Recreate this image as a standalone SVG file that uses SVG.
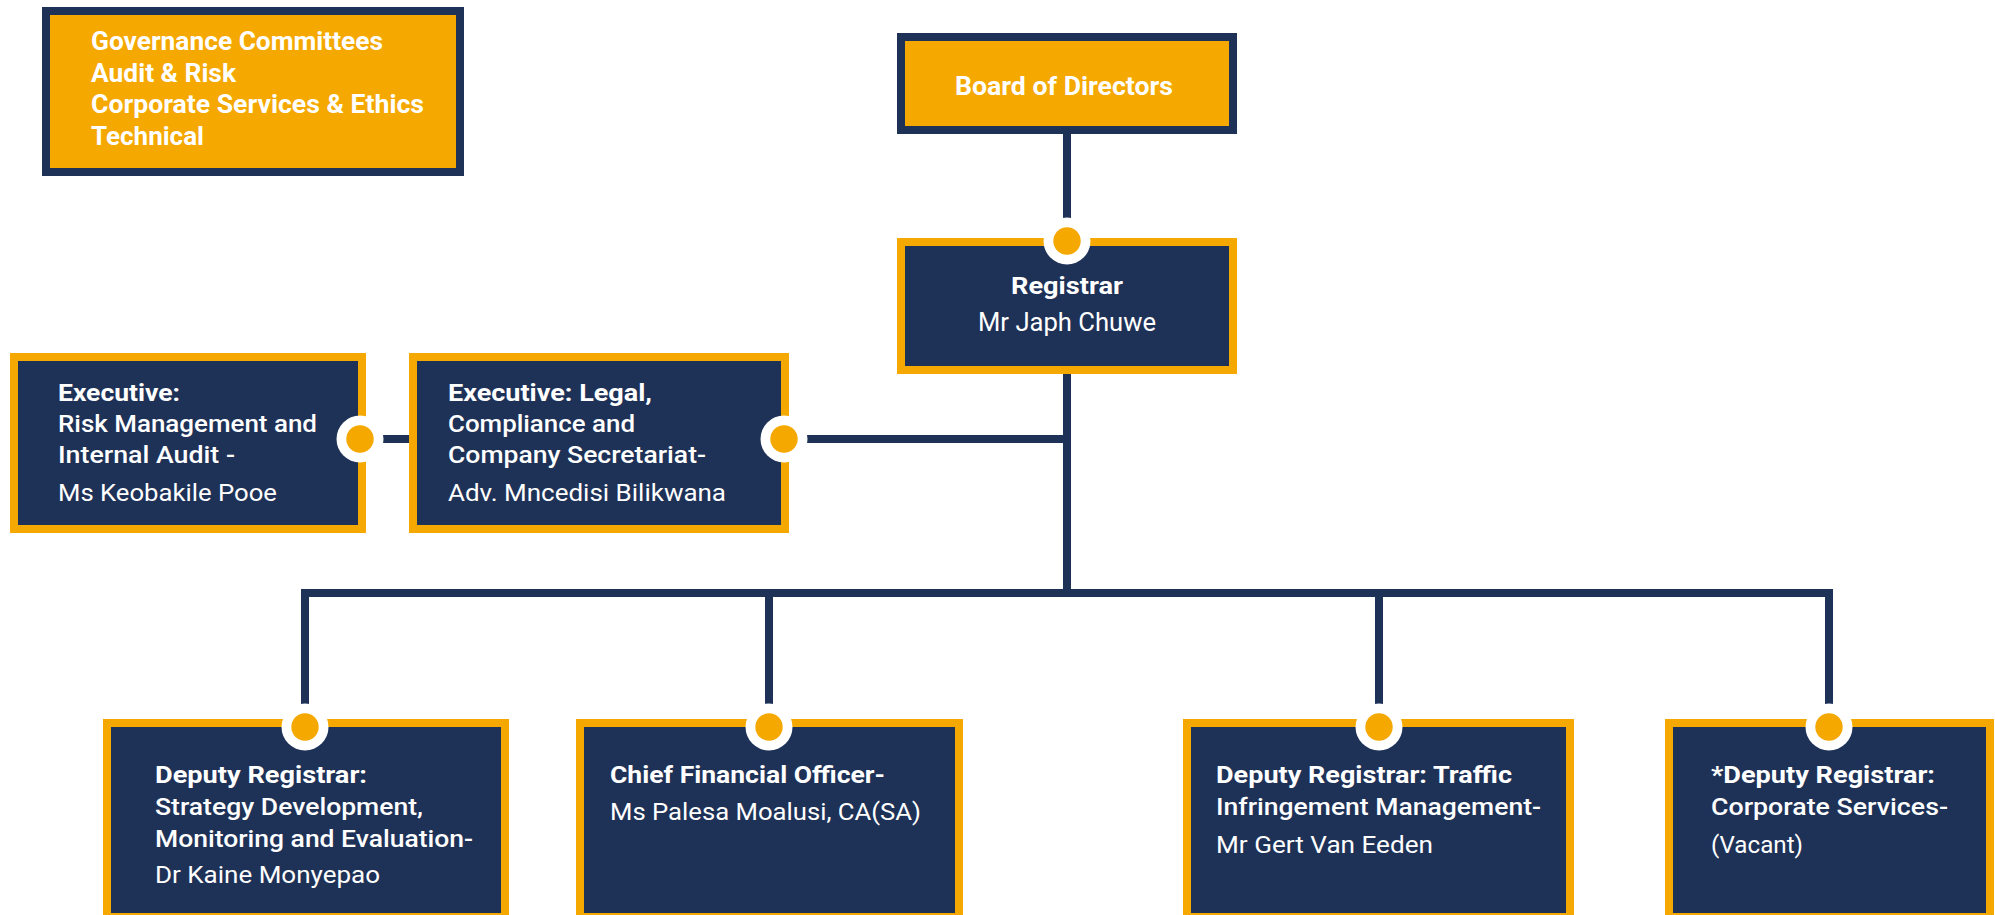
<svg xmlns="http://www.w3.org/2000/svg" width="1995" height="915" viewBox="0 0 1995 915">
<style>
  .gold{fill:#f5a800;stroke:#1e3157;stroke-width:8}
  .navy{fill:#1e3157;stroke:#f5a800;stroke-width:8}
  .conn{fill:none;stroke:#1e3157;stroke-width:8;stroke-linecap:butt;stroke-linejoin:miter}
  text{font-family:Roboto,"Liberation Sans",sans-serif;fill:#ffffff}
  .b{font-weight:700;font-size:24px}
  .m{font-weight:500;font-size:23.5px}
  .r{font-weight:400;font-size:23.5px}
  .g{font-weight:700;font-size:25px}
</style>
<defs>
  <g id="dot">
    <circle r="23.5" fill="#ffffff"/>
    <circle r="13.7" fill="#f5a800"/>
  </g>
</defs>
<rect width="1995" height="915" fill="#ffffff"/>

<g id="connectors">
  <path class="conn" d="M1067,134 V220"/>
  <path class="conn" d="M1067,374 V597"/>
  <path class="conn" d="M784,439 H1071"/>
  <path class="conn" d="M360,439 H413"/>
  <path class="conn" d="M305,704 V593 H1829 V704"/>
  <path class="conn" d="M769,593 V704"/>
  <path class="conn" d="M1379,593 V704"/>
</g>

<g id="governance">
  <rect class="gold" x="46" y="11" width="414" height="161"/>
  <text class="g" x="91" y="50" textLength="292" lengthAdjust="spacingAndGlyphs">Governance Committees</text>
  <text class="g" x="91" y="82" textLength="145" lengthAdjust="spacingAndGlyphs">Audit &amp; Risk</text>
  <text class="g" x="91" y="113" textLength="333" lengthAdjust="spacingAndGlyphs">Corporate Services &amp; Ethics</text>
  <text class="g" x="91" y="145" textLength="113" lengthAdjust="spacingAndGlyphs">Technical</text>
</g>

<g id="board">
  <rect class="gold" x="901" y="37" width="332" height="93"/>
  <text class="g" x="955" y="95" textLength="218" lengthAdjust="spacingAndGlyphs">Board of Directors</text>
</g>

<g id="registrar">
  <rect class="navy" x="901" y="242" width="332" height="128"/>
  <use href="#dot" x="1067" y="241"/>
  <text class="b" x="1011" y="294" textLength="112" lengthAdjust="spacingAndGlyphs">Registrar</text>
  <text class="r" x="978" y="331" font-size="25" style="font-size:25.5px" textLength="178" lengthAdjust="spacingAndGlyphs">Mr Japh Chuwe</text>
</g>

<g id="exec-risk">
  <rect class="navy" x="14" y="357" width="348" height="172"/>
  <use href="#dot" x="360" y="439"/>
  <text class="b" x="58" y="401" textLength="122" lengthAdjust="spacingAndGlyphs">Executive:</text>
  <text class="m" x="58" y="432" textLength="259" lengthAdjust="spacingAndGlyphs">Risk Management and</text>
  <text class="m" x="58" y="463" textLength="177" lengthAdjust="spacingAndGlyphs">Internal Audit -</text>
  <text class="r" x="58" y="501" textLength="219" lengthAdjust="spacingAndGlyphs">Ms Keobakile Pooe</text>
</g>

<g id="exec-legal">
  <rect class="navy" x="413" y="357" width="372" height="172"/>
  <use href="#dot" x="784" y="439"/>
  <text class="b" x="448" y="401" textLength="204" lengthAdjust="spacingAndGlyphs">Executive: Legal,</text>
  <text class="m" x="448" y="432" textLength="187" lengthAdjust="spacingAndGlyphs">Compliance and</text>
  <text class="m" x="448" y="463" textLength="258" lengthAdjust="spacingAndGlyphs">Company Secretariat-</text>
  <text class="r" x="448" y="501" textLength="278" lengthAdjust="spacingAndGlyphs">Adv. Mncedisi Bilikwana</text>
</g>

<g id="dr-strategy">
  <rect class="navy" x="107" y="723" width="398" height="194"/>
  <use href="#dot" x="305" y="727"/>
  <text class="b" x="155" y="783" textLength="212" lengthAdjust="spacingAndGlyphs">Deputy Registrar:</text>
  <text class="m" x="155" y="815" textLength="268" lengthAdjust="spacingAndGlyphs">Strategy Development,</text>
  <text class="m" x="155" y="847" textLength="318" lengthAdjust="spacingAndGlyphs">Monitoring and Evaluation-</text>
  <text class="r" x="155" y="883" textLength="225" lengthAdjust="spacingAndGlyphs">Dr Kaine Monyepao</text>
</g>

<g id="cfo">
  <rect class="navy" x="580" y="723" width="379" height="194"/>
  <use href="#dot" x="769" y="727"/>
  <text class="b" x="610" y="783" textLength="275" lengthAdjust="spacingAndGlyphs">Chief Financial Officer-</text>
  <text class="r" x="610" y="820" textLength="311" lengthAdjust="spacingAndGlyphs">Ms Palesa Moalusi, CA(SA)</text>
</g>

<g id="dr-traffic">
  <rect class="navy" x="1187" y="723" width="383" height="194"/>
  <use href="#dot" x="1379" y="727"/>
  <text class="b" x="1216" y="783" textLength="296" lengthAdjust="spacingAndGlyphs">Deputy Registrar: Traffic</text>
  <text class="m" x="1216" y="815" textLength="325" lengthAdjust="spacingAndGlyphs">Infringement Management-</text>
  <text class="r" x="1216" y="853" textLength="217" lengthAdjust="spacingAndGlyphs">Mr Gert Van Eeden</text>
</g>

<g id="dr-corporate">
  <rect class="navy" x="1669" y="723" width="321" height="194"/>
  <use href="#dot" x="1829" y="727"/>
  <text class="b" x="1711" y="783" textLength="224" lengthAdjust="spacingAndGlyphs">*Deputy Registrar:</text>
  <text class="m" x="1711" y="815" textLength="237" lengthAdjust="spacingAndGlyphs">Corporate Services-</text>
  <text class="r" x="1711" y="853" textLength="92" lengthAdjust="spacingAndGlyphs">(Vacant)</text>
</g>
</svg>
